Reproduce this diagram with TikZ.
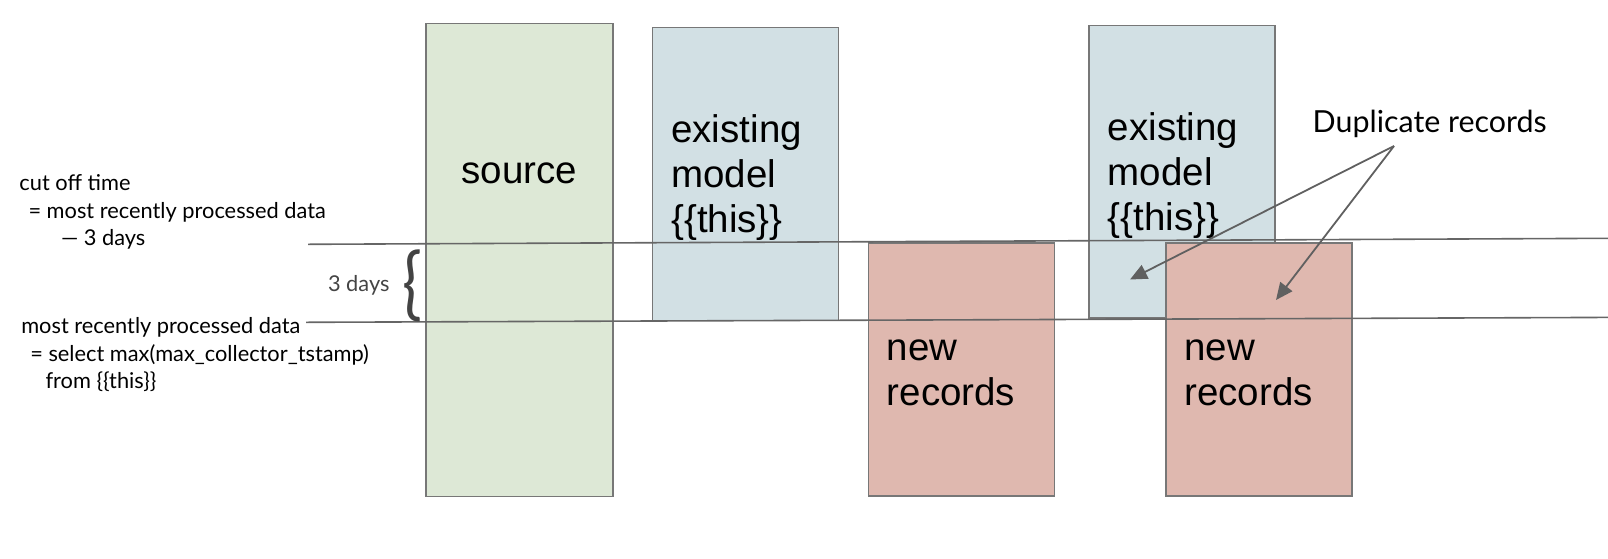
\documentclass[tikz,border=0pt]{standalone}
\usepackage{fontspec}
\setmainfont{Liberation Sans}
\newfontfamily\latof{Lato}
\usetikzlibrary{arrows.meta}
\definecolor{srcfill}{HTML}{DDE8D6}
\definecolor{exfill}{HTML}{D2E0E4}
\definecolor{newfill}{HTML}{DFB8AF}
\definecolor{edgec}{HTML}{777777}
\definecolor{rulec}{HTML}{666666}
\definecolor{arrowc}{HTML}{606060}
\definecolor{bracec}{HTML}{434343}
\definecolor{smallgray}{HTML}{444444}
\begin{document}
\begin{tikzpicture}[x=1pt,y=-1pt,
  boxn/.style={draw=edgec, line width=1.6pt, inner sep=0, outer sep=0, anchor=north west, minimum width=186},
  bigtext/.style={font=\fontsize{38.5}{45}\selectfont, align=left, inner sep=0, outer sep=0},
  smalltext/.style={font=\latof\fontsize{21.8}{27.5}\selectfont, inner sep=0, outer sep=0, anchor=base west},
  rulel/.style={draw=rulec, line width=1.6pt},
  arr/.style={draw=arrowc, line width=1.8pt, -{Triangle[length=17pt,width=15pt]}}
]
\useasboundingbox (0,0) rectangle (1608,558);
% boxes
\node[boxn, fill=srcfill, minimum width=186.7, minimum height=473] (src) at (426,23.3) {};
\node[boxn, fill=exfill, minimum height=293] (ex1) at (652.3,27.3) {};
\node[boxn, fill=newfill, minimum height=253.3] (new1) at (868.3,242.7) {};
\node[boxn, fill=exfill, minimum height=292.6] (ex2) at (1089,25.4) {};
\node[boxn, fill=newfill, minimum height=253.3] (new2) at (1166,242.7) {};
% box texts
\node[bigtext, anchor=base] (srct) at (519.4,183) {source};
\node[bigtext, anchor=north west] (ex1t) at (671.3,114.1) {existing\\model\\\{\{this\}\}};
\node[bigtext, anchor=north west] (ex2t) at (1107.8,112.1) {existing\\model\\\{\{this\}\}};
\node[bigtext, anchor=north west] (new1t) at (886.8,339.8) {new\\records};
\node[bigtext, anchor=north west] (new2t) at (1184.4,339.8) {new\\records};
% time lines
\coordinate (u1) at (308,244.3);
\coordinate (u2) at (1608,238.3);
\coordinate (l1) at (306,322.3);
\coordinate (l2) at (1608,317.4);
\draw[rulel] (u1) -- (u2);
\draw[rulel] (l1) -- (l2);
% left labels
\node[smalltext] (c1) at (19.5,190) {cut off time};
\node[smalltext] (c2) at (28.5,218.3) {= most recently processed data};
\node[smalltext] (c3) at (61,245) {— 3 days};
\node[smalltext] (m1) at (21.3,333.3) {most recently processed data};
\node[smalltext] (m2) at (30.3,361.7) {= select max(max\_collector\_tstamp)};
\node[smalltext] (m3) at (45.5,388.3) {from \{\{this\}\}};
\node[smalltext, text=smallgray] (gap) at (328,291.7) {3 days};
\node[font=\latof\fontsize{66}{66}\selectfont, text=bracec, inner sep=0, yscale=1.2] (brace) at (412,285.5) {\{};
% duplicates
\node[font=\latof\fontsize{30.4}{36}\selectfont, inner sep=0, anchor=base west] (dup) at (1312.5,132) {Duplicate records};
\coordinate (dorig) at (1394,146);
\coordinate (tip1) at (1130,279.5);
\coordinate (tip2) at (1276,300);
\draw[arr] (dorig) -- (tip1);
\draw[arr] (dorig) -- (tip2);
\end{tikzpicture}
\end{document}
